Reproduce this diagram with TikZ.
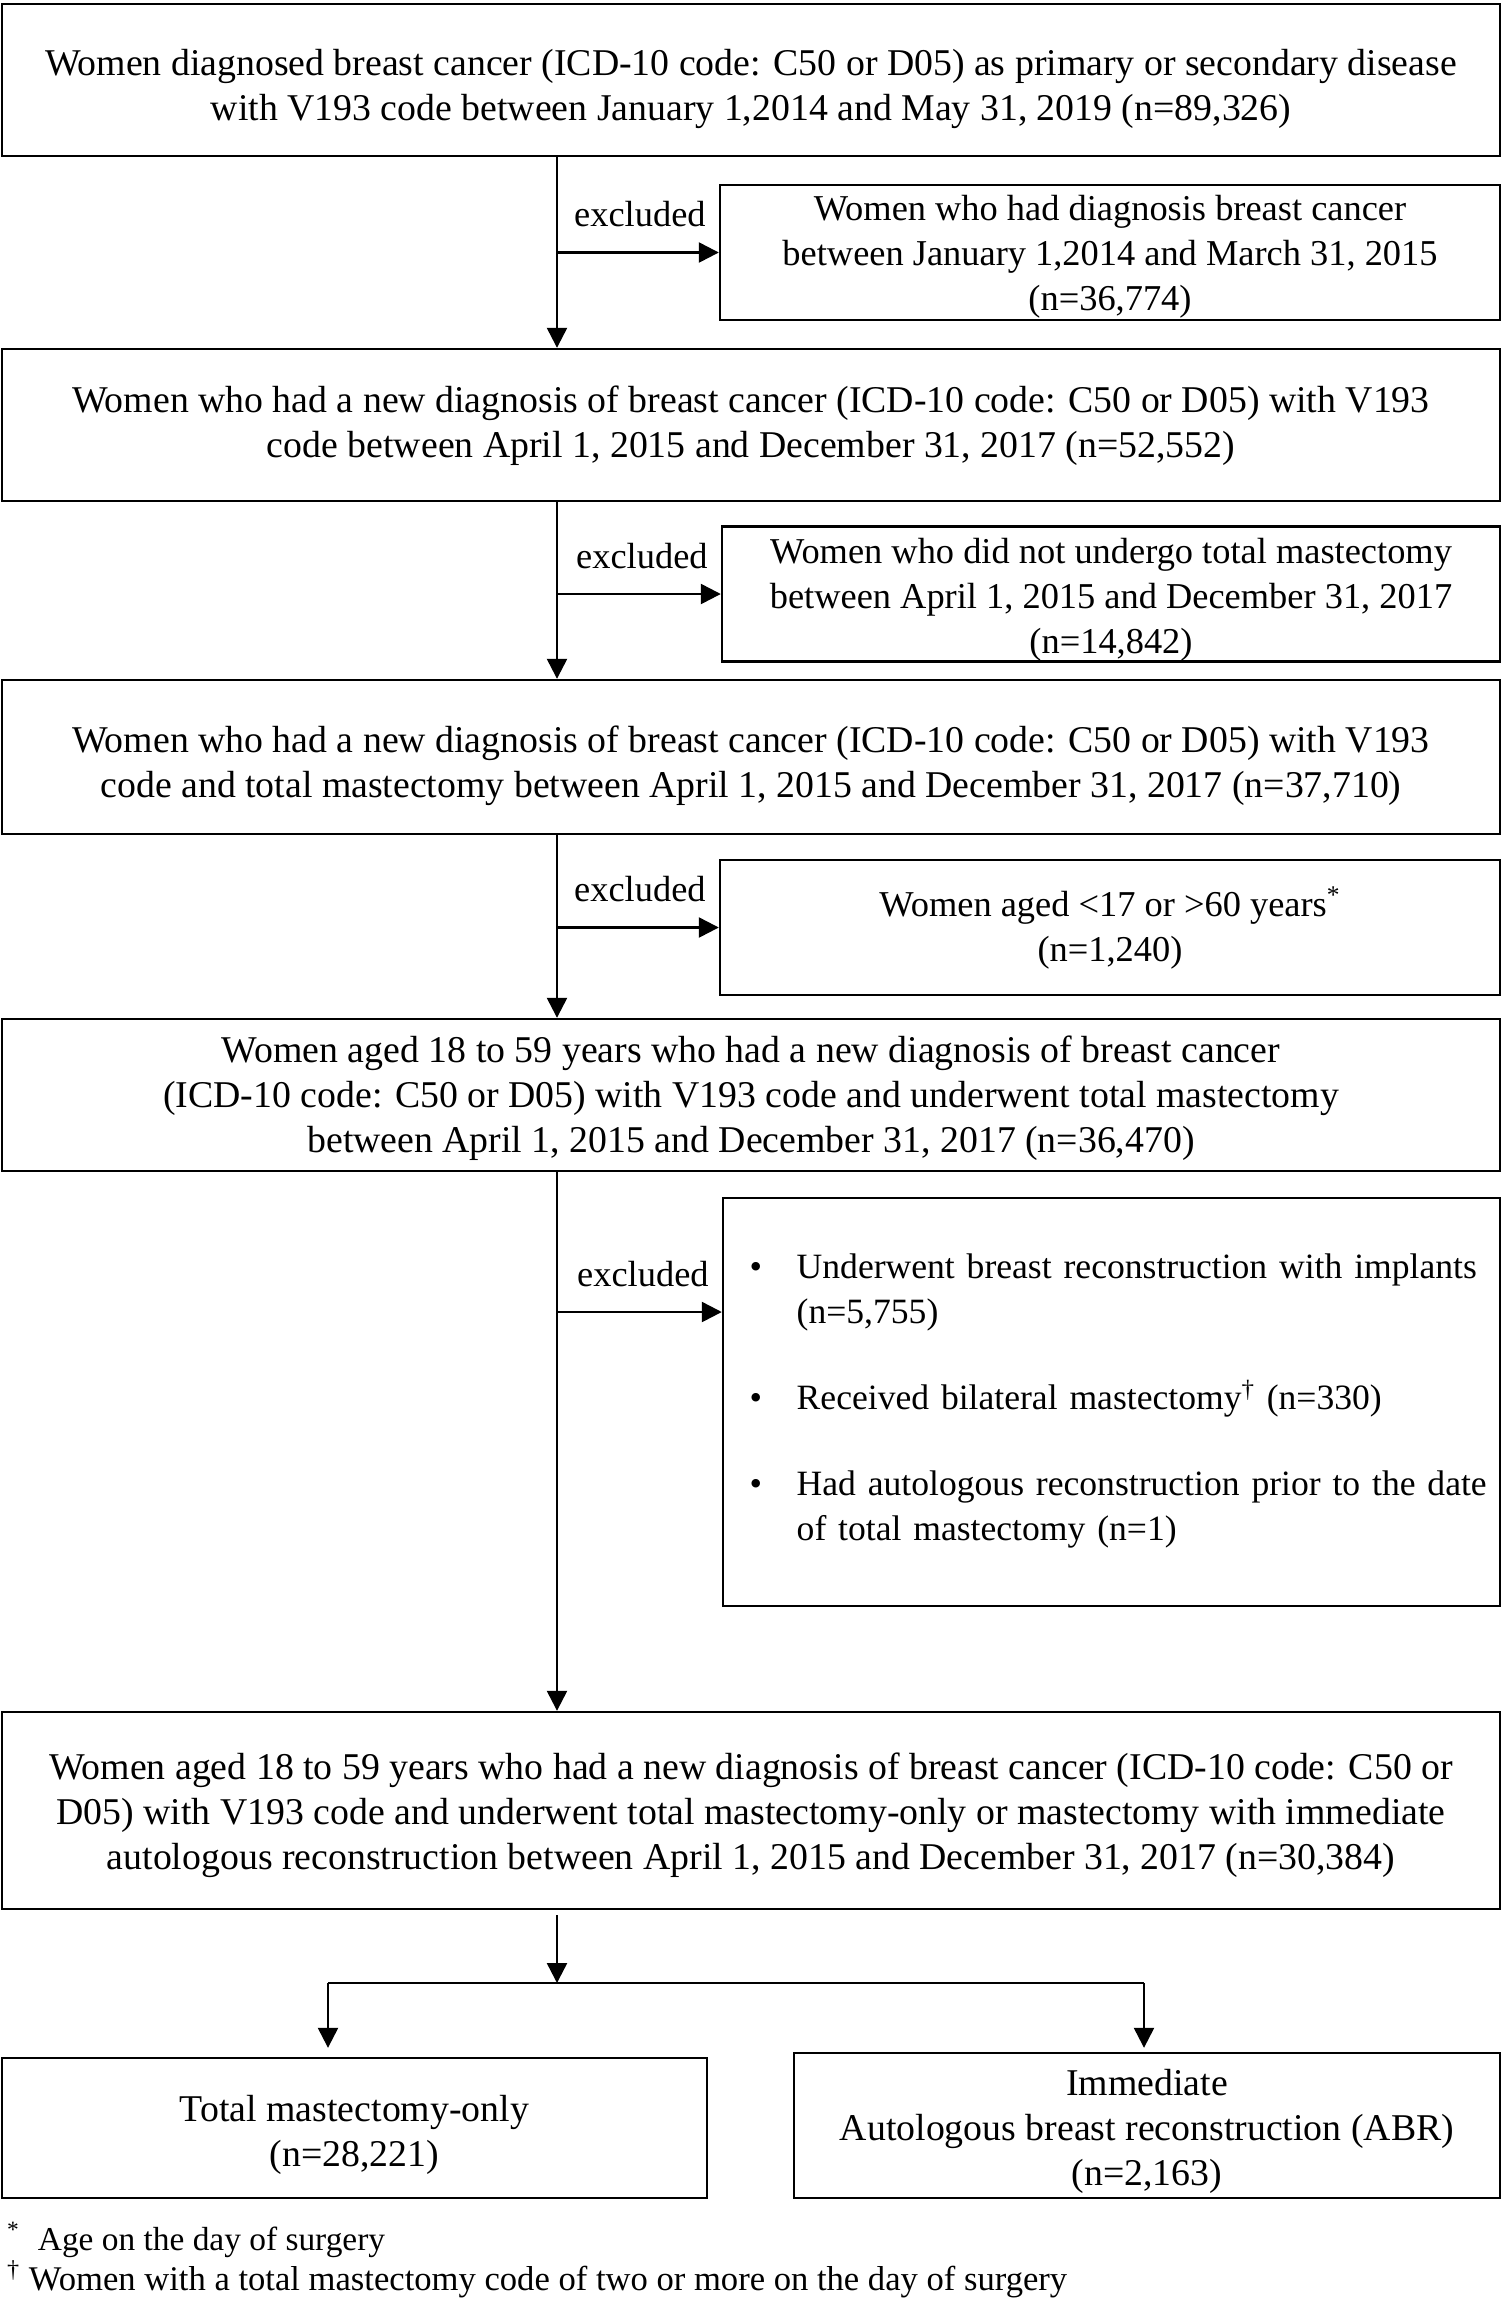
\documentclass[tikz,border=0pt]{standalone}
\usepackage{fontspec}
\setmainfont{Liberation Serif}
\usetikzlibrary{arrows.meta}

\newcommand{\mainfont}{\fontsize{18.9}{22.5}\selectfont}
\newcommand{\exfont}{\fontsize{18.2}{22.5}\selectfont}
\newcommand{\mlines}[2]{\raisebox{-#1}[\height][\depth]{\begin{tabular}{@{}c@{}}#2\end{tabular}}}
\newcommand{\exitem}[1]{\noindent\hangindent=23.5pt\hangafter=1\makebox[23.5pt][l]{\textbullet}#1\par}

\begin{document}
\begin{tikzpicture}[x=0.5pt,y=-0.5pt,line width=1.2pt,
    box/.style 2 args={draw,minimum width=#1,minimum height=#2,inner sep=0pt,font=\mainfont},
    exbox/.style 2 args={box={#1}{#2},font=\exfont},
    arr/.style={-{Triangle[length=10pt,width=10pt]}},
    exlabel/.style={pos=1,anchor=base east,xshift=-6pt,yshift=13pt,inner sep=0pt,font=\exfont}]
            \useasboundingbox (0,0) rectangle (1502,2303);

            % main boxes
            \node[box={749pt}{76pt}] (B1) at (751,80) {\mlines{4.4pt}{Women diagnosed breast cancer (ICD-10 code: C50 or D05) as primary or secondary disease\\with V193 code between January 1,2014 and May 31, 2019 (n=89,326)}};
            \node[box={749pt}{76pt}] (B2) at (751,425) {\mlines{0.7pt}{Women who had a new diagnosis of breast cancer (ICD-10 code: C50 or D05) with V193\\code between April 1, 2015 and December 31, 2017 (n=52,552)}};
            \node[box={749pt}{77pt}] (B3) at (751,757) {\mlines{4.4pt}{Women who had a new diagnosis of breast cancer (ICD-10 code: C50 or D05) with V193\\code and total mastectomy between April 1, 2015 and December 31, 2017 (n=37,710)}};
            \node[box={749pt}{76pt}] (B4) at (751,1095) {\mlines{1.8pt}{Women aged 18 to 59 years who had a new diagnosis of breast cancer\\(ICD-10 code: C50 or D05) with V193 code and underwent total mastectomy\\between April 1, 2015 and December 31, 2017 (n=36,470)}};
            \node[box={749pt}{98.5pt}] (B5) at (751,1810.5) {\mlines{2.6pt}{Women aged 18 to 59 years who had a new diagnosis of breast cancer (ICD-10 code: C50 or\\D05) with V193 code and underwent total mastectomy-only or mastectomy with immediate\\autologous reconstruction between April 1, 2015 and December 31, 2017 (n=30,384)}};
            \node[box={352.5pt}{70pt}] (B6) at (354.5,2128) {\mlines{3.3pt}{Total mastectomy-only\\(n=28,221)}};
            \node[box={353pt}{72.5pt}] (B7) at (1147,2125.5) {\mlines{2.9pt}{Immediate\\Autologous breast reconstruction (ABR)\\(n=2,163)}};

            % excluded boxes
            \node[exbox={390pt}{66.5pt}] (E1) at (1110,252.5) {\mlines{1.8pt}{Women who had diagnosis breast cancer\\between January 1,2014 and March 31, 2015\\(n=36,774)}};
            \node[exbox={389pt}{66pt}] (E2) at (1111,594) {\mlines{2.6pt}{Women who did not undergo total mastectomy\\between April 1, 2015 and December 31, 2017\\(n=14,842)}};
            \node[exbox={390pt}{67.5pt}] (E3) at (1110,927.5) {\mlines{1.1pt}{Women aged <17 or >60 years\textsuperscript{*}\\(n=1,240)}};
            \node[exbox={388.5pt}{204pt}] (E4) at (1111.5,1402) {};
            \node[anchor=north west,text width=376pt,inner sep=0pt,font=\fontsize{17.8}{22.5}\selectfont] (E4list) at (748.5,1253) {\raggedright
                \exitem{Underwent breast reconstruction with implants (n=5,755)}
                \vspace{20.5pt}
                \exitem{Received bilateral mastectomy\textsuperscript{\textdagger} (n=330)}
                \vspace{20.5pt}
                \exitem{Had autologous reconstruction prior to the date of total mastectomy (n=1)}};

            \coordinate (trunk) at (557,0);
            \coordinate (j4) at (557,1312);
            \coordinate (split) at (557,1983);
            \coordinate (lsplit) at (328,1983);
            \coordinate (rsplit) at (1144,1983);

            \foreach \a/\b in {B1/B2,B2/B3,B3/B4,B4/B5}{
                \draw[arr] (\a.south -| trunk) -- (\b.north -| trunk);
            }
            \foreach \e in {E1,E2,E3}{
                \draw[arr] (trunk |- \e.west) -- node[exlabel]{excluded} (\e.west);
            }
            \draw[arr] (j4) -- node[exlabel]{excluded} (j4 -| E4.west);

            \draw[arr,shorten <=2.5pt] (B5.south -| split) -- (split);
            \draw (lsplit) -- (rsplit);
            \draw[arr,shorten >=4.5pt] (lsplit) -- (lsplit |- B6.north);
            \draw[arr,shorten >=2pt] (rsplit) -- (rsplit |- B7.north);

            % footnotes
            \node[anchor=base west,inner sep=0pt,font=\fontsize{16.7}{20}\selectfont] (fn1) at (6,2250) {\textsuperscript{*}\hspace{9pt}Age on the day of surgery};
            \node[anchor=base west,inner sep=0pt,font=\fontsize{17.3}{20}\selectfont] (fn2) at (6,2290) {\textsuperscript{\textdagger} Women with a total mastectomy code of two or more on the day of surgery};
        \end{tikzpicture}
\end{document}
